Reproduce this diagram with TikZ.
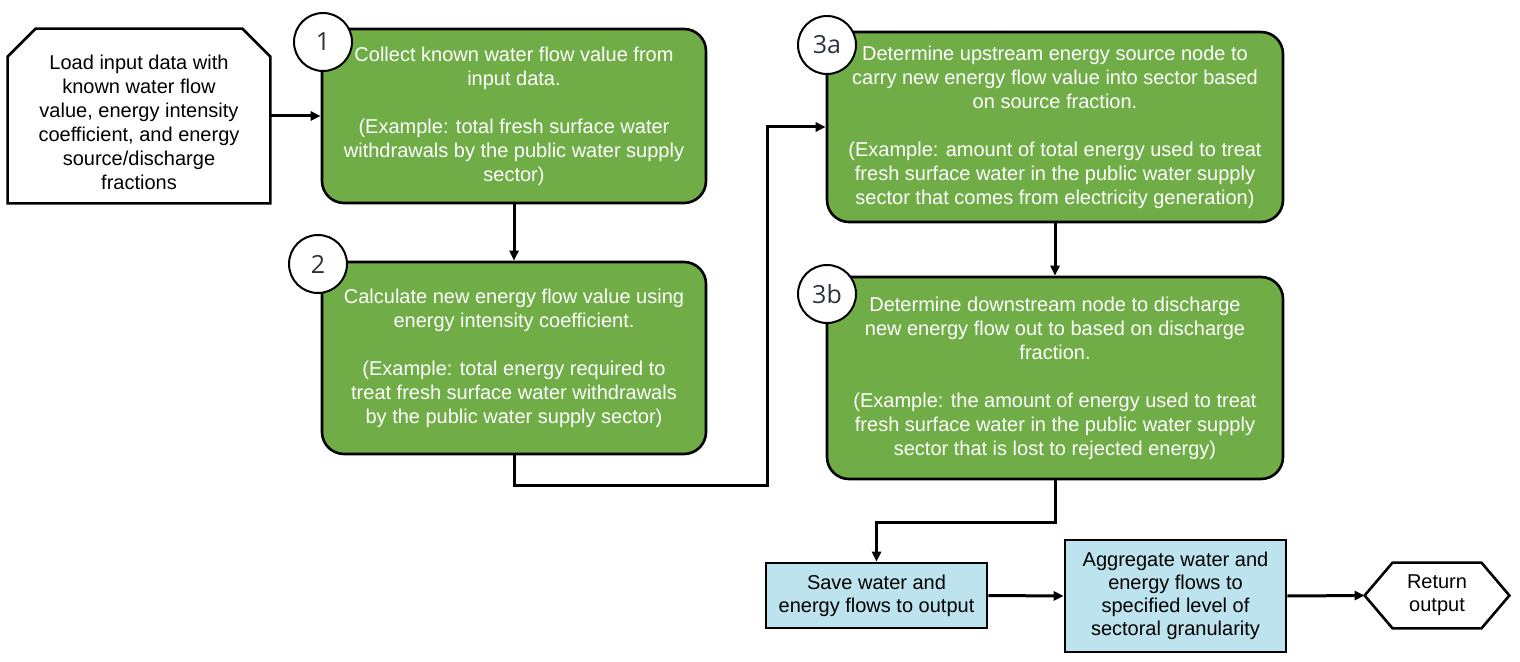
\documentclass[tikz,border=0pt]{standalone}
\usepackage{fontspec}
\setmainfont{Liberation Sans}
\newfontfamily\circfont{Open Sans}
\usetikzlibrary{arrows.meta}
\definecolor{boxgreen}{HTML}{70AD47}
\definecolor{boxblue}{HTML}{BDE3EE}
\definecolor{circtxt}{HTML}{2B3340}
\tikzset{
  greenbox/.style={draw=black, line width=1.3pt, fill=boxgreen, rounded corners=11pt,
    text=white, align=center, font=\fontsize{10pt}{12pt}\selectfont, inner sep=0pt},
  bluebox/.style={draw=black, line width=1.3pt, fill=boxblue, align=center,
    font=\fontsize{10pt}{11.5pt}\selectfont, inner sep=0pt},
  plainnode/.style={align=center, font=\fontsize{10pt}{12pt}\selectfont, inner sep=0pt},
  stepcirc/.style={circle, draw=black, line width=1pt, fill=white, minimum size=29pt,
    inner sep=0pt, text=circtxt, font=\circfont\fontsize{12.5pt}{12.5pt}\selectfont},
  arr/.style={line width=1.5pt, -{Triangle[length=5pt,width=4.5pt]}},
  outline/.style={draw=black, line width=1.3pt, line join=miter}
}
\begin{document}
\begin{tikzpicture}[x=0.5pt, y=-0.5pt]
\useasboundingbox (0,0) rectangle (1520,662);
% input
\node[plainnode, minimum width=131pt, minimum height=87pt] (in) at (139,116) {};
\node[plainnode] (intext) at (139,122)
  {Load input data with\\known water flow\\value, energy intensity\\coefficient, and energy\\source/discharge\\fractions};
\draw[outline] ([yshift=-14pt]in.north west) -- ([xshift=14pt]in.north west)
  -- ([xshift=-14pt]in.north east) -- ([yshift=-14pt]in.north east)
  -- (in.south east) -- (in.south west) -- cycle;
% green boxes
\node[greenbox, minimum width=192pt, minimum height=87pt] (b1) at (514,116)
  {Collect known water flow value from\\input data.\\[12pt](Example: total fresh surface water\\withdrawals by the public water supply\\sector)};
\node[greenbox, minimum width=192pt, minimum height=96pt] (b2) at (514,358)
  {Calculate new energy flow value using\\energy intensity coefficient.\\[12pt](Example: total energy required to\\treat fresh surface water withdrawals\\by the public water supply sector)};
\node[greenbox, minimum width=228pt, minimum height=95pt] (b3a) at (1055,127)
  {Determine upstream energy source node to\\carry new energy flow value into sector based\\on source fraction.\\[12pt](Example: amount of total energy used to treat\\fresh surface water in the public water supply\\sector that comes from electricity generation)};
\node[greenbox, minimum width=228pt, minimum height=101pt] (b3b) at (1055,378)
  {Determine downstream node to discharge\\new energy flow out to based on discharge\\fraction.\\[12pt](Example: the amount of energy used to treat\\fresh surface water in the public water supply\\sector that is lost to rejected energy)};
% circles
\node[stepcirc] (c1) at (323,42) {1};
\node[stepcirc] (c2) at (318,264) {2};
\node[stepcirc] (c3a) at (827,45) {3a};
\node[stepcirc] (c3b) at (827,294) {3b};
% bottom boxes
\node[bluebox, minimum width=110.5pt, minimum height=32.5pt] (save) at (876.5,595.5)
  {Save water and\\energy flows to output};
\node[bluebox, minimum width=110.5pt, minimum height=56pt] (agg) at (1175.5,596)
  {Aggregate water and\\energy flows to\\specified level of\\sectoral granularity};
\node[plainnode, minimum width=72pt, minimum height=32.5pt, font=\fontsize{10pt}{11.5pt}\selectfont] (ret) at (1437,595.5)
  {Return\\output};
\draw[outline] (ret.west) -- ([xshift=14pt]ret.north west) -- ([xshift=-14pt]ret.north east)
  -- (ret.east) -- ([xshift=-14pt]ret.south east) -- ([xshift=14pt]ret.south west) -- cycle;
% junctions
\coordinate (j1) at (767,485);
\coordinate (j2) at (876.5,522);
% connectors
\draw[arr] (in.east) -- (b1.west);
\draw[arr] (b1.south) -- (b2.north);
\draw[arr] (b2.south) |- (j1) |- (b3a.west);
\draw[arr] (b3a.south) -- (b3b.north);
\draw[arr] (b3b.south) |- (j2) -- (save.north);
\draw[arr] (save.east) -- (agg.west);
\draw[arr] (agg.east) -- (ret.west);
\end{tikzpicture}
\end{document}
